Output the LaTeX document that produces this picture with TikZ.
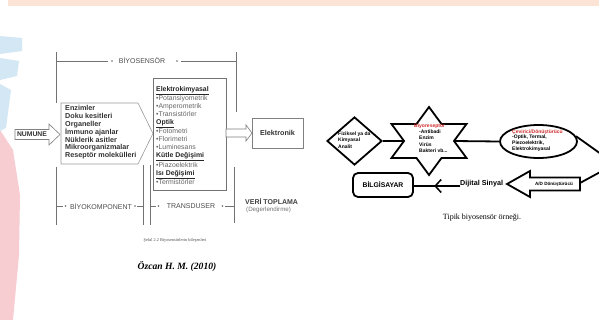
\documentclass[tikz,border=0pt]{standalone}
\usepackage{fontspec}
\setmainfont{Liberation Serif}
\setsansfont{Liberation Sans}
\usetikzlibrary{shapes.geometric,decorations.markings,arrows.meta}
\definecolor{band}{HTML}{FBE3D6}
\definecolor{lblue}{HTML}{D3E7F4}
\definecolor{lpink}{HTML}{F7CDD2}
\definecolor{redt}{HTML}{D02A2A}
\begin{document}
\begin{tikzpicture}[x=1pt,y=-1pt,
  guide/.style={draw=black!55, line width=0.6pt},
  softbox/.style={draw=black!40, line width=0.6pt, fill=white},
  heavy/.style={draw=black, line width=1.8pt},
  biotxt/.style={font=\sffamily\bfseries\fontsize{7.2}{7.8}\selectfont, text=black!80, align=left, inner sep=0},
  tdtxt/.style={font=\sffamily\fontsize{6.9}{7.9}\selectfont, text=black!60, align=left, inner sep=0},
  brk/.style={font=\sffamily\fontsize{7}{8}\selectfont, text=black!70, inner sep=0},
  tiny/.style={font=\sffamily\bfseries\fontsize{5}{6.5}\selectfont, align=left, inner sep=0},
  dotm/.style={fill=black!60}
]
\useasboundingbox (0,0) rectangle (599,320);
\fill[white] (0,0) rectangle (599,320);
% background decorations
\fill[band] (8,0) rectangle (599,6);
\fill[lblue] (0,36) -- (22,38) -- (22,51) -- (0,54) -- cycle;
\fill[lblue] (0,58) -- (19,61) -- (17,76) -- (0,80) -- cycle;
\fill[lblue] (0,84) -- (11,90) -- (6,128) -- (0,131) -- cycle;
\fill[lpink] (0,130) -- (13,150) -- (20,195) -- (19,255) -- (13,320) -- (0,320) -- cycle;

% ---------- left diagram ----------
% top bracket
\draw[guide] (56,52) -- (56,103);
\draw[guide] (236,52) -- (236,112);
\node[brk] (bs) at (142,61) {BİYOSENSÖR};
\coordinate (bsl) at (56,61);
\coordinate (bsr) at (236,61);
\draw[guide] (bsl) -- (108,61);
\draw[guide] (181,61) -- (bsr);
\fill[dotm] (112,61) circle (0.9);
\fill[dotm] (177,61) circle (0.9);

% NUMUNE arrow
\draw[softbox, draw=black!50] (15,129.5) -- (49,129.5) -- (49,124) -- (60,134.5) -- (49,145) -- (49,139.5) -- (15,139.5) -- cycle;
\node[font=\sffamily\bfseries\fontsize{6.8}{8}\selectfont, text=black!80, inner sep=0] (num) at (32,134.5) {NUMUNE};

% biocomponent box
\draw[softbox] (61,103) -- (138,103) -- (153,133.5) -- (138,164) -- (61,164) -- cycle;
\node[biotxt, anchor=west] (biot) at (65,132.5) {Enzimler\\Doku kesitleri\\Organeller\\İmmuno ajanlar\\Nüklerik asitler\\Mikroorganizmalar\\Reseptör molekülleri};

% transducer box
\draw[softbox, draw=black!55] (153,78) rectangle (226,190);
\node[tdtxt, anchor=west] (tdt) at (156,135.5) {{\color{black!85}\bfseries\underline{Elektrokimyasal}}\\•Potansiyometrik\\•Amperometrik\\•Transistörler\\{\color{black!85}\bfseries\underline{Optik}}\\•Fotometri\\•Florimetri\\•Luminesans\\{\color{black!85}\bfseries\underline{Kütle Değişimi}}\\•Piazoelektrik\\{\color{black!85}\bfseries\underline{Isı Değişimi}}\\•Termistörler};

% arrow to Elektronik
\draw[softbox, draw=black!50] (226,129) -- (246,129) -- (246,125) -- (252,133) -- (246,141) -- (246,137) -- (226,137) -- cycle;
\node[draw=black!50, line width=0.6pt, minimum width=51pt, minimum height=30pt, inner sep=0,
      font=\sffamily\bfseries\fontsize{7.2}{8}\selectfont, text=black!80] (elk) at (277.5,133) {Elektronik};

% bottom brackets
\draw[guide] (56,167) -- (56,225);
\draw[guide] (143,165) -- (143,225);
\draw[guide] (150,165) -- (150,225);
\draw[guide] (234,167) -- (234,223);
\node[brk] (bk) at (101,206) {BİYOKOMPONENT};
\draw[guide] (56,206) -- (63,206);
\draw[guide] (137,206) -- (143,206);
\fill[dotm] (65.5,206) circle (0.9);
\fill[dotm] (135,206) circle (0.9);
\node[brk] (td) at (191,206) {TRANSDUSER};
\draw[guide] (150,206) -- (156,206);
\draw[guide] (225,206) -- (234,206);
\fill[dotm] (158.5,206) circle (0.9);
\fill[dotm] (222.5,206) circle (0.9);
\node[brk, font=\sffamily\bfseries\fontsize{7}{8}\selectfont, text=black!75, anchor=west] (vt) at (245,202) {VERİ TOPLAMA};
\node[brk, font=\sffamily\fontsize{6.2}{8}\selectfont, text=black!55, anchor=west] (dg) at (246,210) {(Degerlendirme)};

\node[font=\fontsize{4.3}{5}\selectfont, text=black!70, inner sep=0] (cap1) at (175,240) {Şekil 2.2 Biyosensörlerin bileşenleri};
\node[font=\bfseries\itshape\fontsize{9.6}{11}\selectfont, inner sep=0] (oz) at (177,267) {Özcan H. M. (2010)};

% ---------- right diagram ----------
\node[diamond, heavy, minimum width=55pt, minimum height=48pt, inner sep=0] (dia) at (354.5,141) {};
\node[tiny, anchor=west] (diat) at (338,140) {Fiziksel ya da\\Kimyasal\\Analit};

\draw[heavy, line join=miter] (429,107) -- (441.5,124) -- (466.5,124) -- (454,141) -- (466.5,158) -- (441.5,158) -- (429,175) -- (416.5,158) -- (391.5,158) -- (404,141) -- (391.5,124) -- (416.5,124) -- cycle;
\coordinate (starW) at (404,141);
\coordinate (starE) at (454,141);
\node[tiny, text=redt, anchor=west] (bio) at (414,126) {Biyoreseptör};
\node[tiny, anchor=north west] (biol) at (419,129.5) {-Antibadi\\Enzim\\Virüs\\Bakteri vb...};

\node[ellipse, heavy, minimum width=77pt, minimum height=33pt, inner sep=0] (ell) at (538.5,141.5) {};
\node[tiny, font=\sffamily\bfseries\fontsize{5}{5.8}\selectfont, anchor=west] (ellt) at (512,140.5) {{\color{redt}Çevirici/Dönüştürücü}\\-Optik, Termal,\\Piezoelektrik,\\Elektrokimyasal};

\draw[heavy] (dia.east) -- (starW);
\draw[heavy] (starE) -- (ell.west);

\draw[heavy, line join=miter] (507,184) -- (530,171) -- (530,177.5) -- (580,177.5) -- (580,190.5) -- (530,190.5) -- (530,197) -- cycle;
\node[tiny, font=\sffamily\bfseries\fontsize{4.6}{5}\selectfont] (ad) at (554,184) {A/D Dönüştürücü};
\coordinate (off) at (615,164);
\coordinate (adr) at (580,183);
\draw[heavy] (ell.8) -- (off) -- (adr);

\node[draw=black, line width=1.8pt, rounded corners=5pt, minimum width=60pt, minimum height=24pt, inner sep=0,
      font=\sffamily\bfseries\fontsize{6.8}{8}\selectfont] (bil) at (383,185) {BİLGİSAYAR};
\node[font=\sffamily\bfseries\fontsize{7.2}{8}\selectfont, inner sep=0, anchor=base west] (dig) at (460,186) {Dijital Sinyal};
\draw[heavy, decoration={markings, mark=at position 0.56 with {\arrow[line width=1.5pt]{Straight Barb[length=6pt,width=13pt]}}}, postaction={decorate}]
  (dig.base west) -- (bil.east |- dig.base west);

\node[font=\fontsize{8}{9}\selectfont, inner sep=0] (tip) at (482,218) {Tipik biyosensör örneği.};
\end{tikzpicture}
\end{document}
